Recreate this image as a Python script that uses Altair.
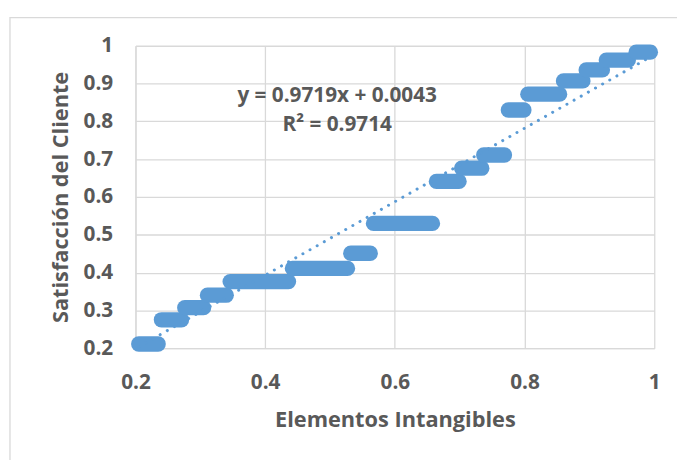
import altair as alt
import pandas as pd

# Horizontal runs of points (each run = many overlapping markers at one y level)
seg_y = [0.211, 0.275, 0.307, 0.340, 0.376, 0.411, 0.451, 0.530, 0.641,
         0.676, 0.711, 0.830, 0.872, 0.907, 0.936, 0.962, 0.983]
seg_x_start = [0.205, 0.240, 0.276, 0.311, 0.346, 0.442, 0.532, 0.567, 0.664,
               0.703, 0.737, 0.775, 0.805, 0.860, 0.895, 0.926, 0.972]
seg_x_end = [0.235, 0.271, 0.305, 0.340, 0.436, 0.527, 0.562, 0.658, 0.699,
             0.734, 0.769, 0.799, 0.854, 0.890, 0.920, 0.960, 0.994]

slope = 0.9719
intercept = 0.0043
eq_lines = ["y = 0.9719x + 0.0043", "R² = 0.9714"]
eq_x = [0.511, 0.511]
eq_y = [0.850, 0.774]

x_ticks = [0.2, 0.4, 0.6, 0.8, 1.0]
y_ticks = [0.2, 0.3, 0.4, 0.5, 0.6, 0.7, 0.8, 0.9, 1.0]

FONT = "Open Sans"
TXT = "#595959"
GRID = "#D9D9D9"
BLUE = "#5B9BD5"

seg_df = pd.DataFrame({"x": seg_x_start, "x2": seg_x_end, "y": seg_y})
xmin, xmax = min(seg_x_start), max(seg_x_end)
trend_df = pd.DataFrame({"x": [xmin], "x2": [xmax],
                         "y": [slope * xmin + intercept],
                         "y2": [slope * xmax + intercept]})
eq_df = pd.DataFrame({"t": eq_lines, "x": eq_x, "y": eq_y})

xscale = alt.Scale(domain=[0.2, 1.0], nice=False, zero=False)
yscale = alt.Scale(domain=[0.2, 1.0], nice=False, zero=False)

xaxis = alt.Axis(values=x_ticks, format="~g", title="Elementos Intangibles",
                 grid=True, gridColor=GRID, gridWidth=1.3, domainColor=GRID,
                 domainWidth=1.3, ticks=False, labelPadding=24,
                 labelFlush=False, labelOverlap=False,
                 labelFont=FONT, labelFontWeight="bold", labelFontSize=21,
                 labelColor=TXT, titleFont=FONT, titleFontWeight="bold",
                 titleFontSize=22, titleColor=TXT, titleY=79,
                 titleBaseline="alphabetic")
yaxis = alt.Axis(values=y_ticks, format="~g", title="Satisfacción del Cliente",
                 grid=True, gridColor=GRID, gridWidth=1.3, domainColor=GRID,
                 domainWidth=1.3, ticks=False, labelPadding=23,
                 labelFlush=False, labelOverlap=False,
                 labelFont=FONT, labelFontWeight="bold", labelFontSize=21,
                 labelColor=TXT, titleFont=FONT, titleFontWeight="bold",
                 titleFontSize=22, titleColor=TXT, titleX=-69,
                 titleBaseline="alphabetic")

border = alt.Chart(alt.Data(values=[{}])).mark_rect(
    filled=False, stroke=GRID, strokeWidth=1.3
).encode(x=alt.value(-127), y=alt.value(-28.5),
         x2=alt.value(800), y2=alt.value(600))

segs = alt.Chart(seg_df).mark_rule(
    color=BLUE, strokeWidth=15.5, strokeCap="round"
).encode(
    x=alt.X("x:Q", scale=xscale, axis=xaxis),
    x2="x2:Q",
    y=alt.Y("y:Q", scale=yscale, axis=yaxis),
)

trend = alt.Chart(trend_df).mark_rule(
    color=BLUE, strokeWidth=3, strokeCap="round", strokeDash=[0.1, 8.2]
).encode(x=alt.X("x:Q", scale=xscale, axis=xaxis), x2="x2:Q",
         y=alt.Y("y:Q", scale=yscale, axis=yaxis), y2="y2:Q")

eq = alt.Chart(eq_df).mark_text(
    font=FONT, fontWeight="bold", fontSize=21, color=TXT,
    align="center", baseline="alphabetic"
).encode(x=alt.X("x:Q", scale=xscale, axis=xaxis),
         y=alt.Y("y:Q", scale=yscale, axis=yaxis), text="t:N")

chart = alt.layer(border, segs, trend, eq).properties(
    width=525, height=306,
    autosize=alt.AutoSizeParams(type="none"),
    padding={"left": 129, "top": 35.5, "right": 23, "bottom": 110},
    background="white",
).configure_view(strokeWidth=0)

chart.save("out.html", embed_options={"renderer": "svg", "actions": False})
